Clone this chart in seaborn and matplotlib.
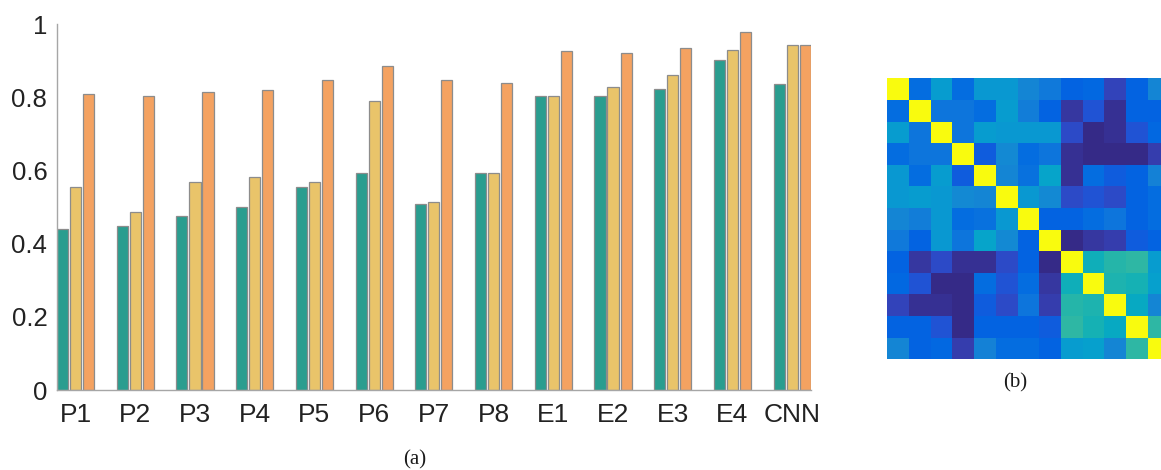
import numpy as np
import pandas as pd
import matplotlib
matplotlib.use("Agg")
import matplotlib.pyplot as plt
from matplotlib.colors import ListedColormap
import seaborn as sns

# ---- bar chart data -------------------------------------------------------
categories = ["P1", "P2", "P3", "P4", "P5", "P6", "P7", "P8",
              "E1", "E2", "E3", "E4", "CNN"]
series_names = ["s1", "s2", "s3"]
s1_values = [0.440, 0.447, 0.475, 0.500, 0.554, 0.594, 0.509, 0.594,
             0.802, 0.802, 0.823, 0.902, 0.835]
s2_values = [0.554, 0.487, 0.568, 0.582, 0.568, 0.790, 0.514, 0.594,
             0.802, 0.829, 0.862, 0.930, 0.943]
s3_values = [0.810, 0.802, 0.813, 0.821, 0.848, 0.885, 0.846, 0.840,
             0.925, 0.922, 0.935, 0.977, 0.944]
y_ticks = [0, 0.2, 0.4, 0.6, 0.8, 1]
y_tick_labels = ["0", "0.2", "0.4", "0.6", "0.8", "1"]
bar_colors = ["#2a9d8f", "#e9c46a", "#f4a261"]

# ---- similarity matrix (13 x 13, symmetric) -------------------------------
sim_matrix = [
    [1.00, 0.16, 0.34, 0.16, 0.32, 0.32, 0.26, 0.21, 0.13, 0.15, 0.07, 0.14, 0.26],
    [0.16, 1.00, 0.19, 0.19, 0.16, 0.34, 0.22, 0.14, 0.04, 0.10, 0.03, 0.13, 0.14],
    [0.34, 0.19, 1.00, 0.19, 0.33, 0.32, 0.32, 0.32, 0.08, 0.01, 0.03, 0.10, 0.15],
    [0.16, 0.19, 0.19, 1.00, 0.12, 0.27, 0.16, 0.20, 0.02, 0.01, 0.01, 0.01, 0.05],
    [0.32, 0.16, 0.33, 0.12, 1.00, 0.25, 0.18, 0.36, 0.02, 0.16, 0.12, 0.14, 0.24],
    [0.32, 0.34, 0.32, 0.27, 0.25, 1.00, 0.32, 0.27, 0.08, 0.10, 0.08, 0.14, 0.16],
    [0.26, 0.22, 0.32, 0.16, 0.18, 0.32, 1.00, 0.13, 0.13, 0.16, 0.19, 0.14, 0.16],
    [0.21, 0.14, 0.32, 0.20, 0.36, 0.27, 0.13, 1.00, 0.00, 0.04, 0.06, 0.11, 0.14],
    [0.13, 0.04, 0.08, 0.02, 0.02, 0.08, 0.13, 0.00, 1.00, 0.43, 0.47, 0.49, 0.34],
    [0.15, 0.10, 0.01, 0.01, 0.16, 0.10, 0.16, 0.04, 0.43, 1.00, 0.46, 0.44, 0.35],
    [0.07, 0.03, 0.03, 0.01, 0.12, 0.08, 0.19, 0.06, 0.47, 0.46, 1.00, 0.40, 0.26],
    [0.14, 0.13, 0.10, 0.01, 0.14, 0.14, 0.14, 0.11, 0.49, 0.44, 0.40, 1.00, 0.49],
    [0.26, 0.14, 0.15, 0.05, 0.24, 0.16, 0.16, 0.14, 0.34, 0.35, 0.26, 0.49, 1.00],
]

# parula-style colormap
_parula_rgb = [
    [0.2081, 0.1663, 0.5292], [0.2116, 0.1898, 0.5777], [0.2123, 0.2138, 0.6270],
    [0.2081, 0.2386, 0.6771], [0.1959, 0.2645, 0.7279], [0.1707, 0.2919, 0.7792],
    [0.1253, 0.3242, 0.8303], [0.0591, 0.3598, 0.8683], [0.0117, 0.3875, 0.8820],
    [0.0060, 0.4086, 0.8828], [0.0165, 0.4266, 0.8786], [0.0329, 0.4430, 0.8720],
    [0.0498, 0.4586, 0.8641], [0.0629, 0.4737, 0.8554], [0.0723, 0.4887, 0.8467],
    [0.0779, 0.5040, 0.8384], [0.0793, 0.5200, 0.8312], [0.0749, 0.5375, 0.8263],
    [0.0641, 0.5570, 0.8240], [0.0488, 0.5772, 0.8228], [0.0343, 0.5966, 0.8199],
    [0.0265, 0.6137, 0.8135], [0.0239, 0.6287, 0.8038], [0.0231, 0.6418, 0.7913],
    [0.0228, 0.6535, 0.7768], [0.0267, 0.6642, 0.7607], [0.0384, 0.6743, 0.7436],
    [0.0590, 0.6838, 0.7254], [0.0843, 0.6928, 0.7062], [0.1133, 0.7015, 0.6859],
    [0.1453, 0.7098, 0.6646], [0.1801, 0.7177, 0.6424], [0.2178, 0.7250, 0.6193],
    [0.2586, 0.7317, 0.5954], [0.3022, 0.7376, 0.5712], [0.3482, 0.7424, 0.5473],
    [0.3953, 0.7459, 0.5244], [0.4420, 0.7481, 0.5033], [0.4871, 0.7491, 0.4840],
    [0.5300, 0.7491, 0.4661], [0.5709, 0.7485, 0.4494], [0.6099, 0.7473, 0.4337],
    [0.6473, 0.7456, 0.4188], [0.6834, 0.7435, 0.4044], [0.7184, 0.7411, 0.3905],
    [0.7525, 0.7384, 0.3768], [0.7858, 0.7356, 0.3633], [0.8185, 0.7327, 0.3498],
    [0.8507, 0.7299, 0.3360], [0.8824, 0.7274, 0.3217], [0.9139, 0.7258, 0.3063],
    [0.9450, 0.7261, 0.2886], [0.9739, 0.7314, 0.2666], [0.9938, 0.7455, 0.2403],
    [0.9990, 0.7653, 0.2164], [0.9955, 0.7861, 0.1967], [0.9880, 0.8066, 0.1794],
    [0.9789, 0.8271, 0.1633], [0.9697, 0.8481, 0.1475], [0.9626, 0.8705, 0.1309],
    [0.9589, 0.8949, 0.1132], [0.9598, 0.9218, 0.0948], [0.9661, 0.9514, 0.0755],
    [0.9763, 0.9831, 0.0538],
]
parula = ListedColormap(_parula_rgb, name="parula")

# ---- figure ----------------------------------------------------------------
sns.set_theme(style="white")
plt.rcParams["font.family"] = ["Liberation Sans", "DejaVu Sans"]

fig = plt.figure(figsize=(11.61, 4.70), dpi=100)

# grouped bar chart
ax = fig.add_axes([0.0491, 0.1702, 0.6492, 0.7787])
df = pd.DataFrame({
    "model": np.repeat(categories, 3),
    "variant": series_names * len(categories),
    "score": np.ravel(np.column_stack([s1_values, s2_values, s3_values])),
})
sns.barplot(data=df, x="model", y="score", hue="variant", order=categories,
            hue_order=series_names, palette=bar_colors, saturation=1,
            width=0.655, gap=0.15, edgecolor="#8c8c8c", linewidth=0.9,
            legend=False, ax=ax)
ax.set_xlim(-0.31, 12.31)
ax.set_ylim(0, 1)
ax.set_yticks(y_ticks)
ax.set_yticklabels(y_tick_labels)
ax.set_xlabel("")
ax.set_ylabel("")
for side in ["top", "right"]:
    ax.spines[side].set_visible(False)
for side in ["left", "bottom"]:
    ax.spines[side].set_color("#a6a6a6")
    ax.spines[side].set_linewidth(1.0)
ax.tick_params(axis="y", length=0, pad=7, labelsize=18.5, labelcolor="#222222")
ax.tick_params(axis="x", length=0, pad=9, labelsize=19, labelcolor="#222222")
ax.set_facecolor("white")

# similarity heatmap
hax = fig.add_axes([0.7643, 0.2355, 0.2429, 0.5979])
sns.heatmap(np.array(sim_matrix), cmap=parula, vmin=0, vmax=1, cbar=False,
            square=False, xticklabels=False, yticklabels=False, ax=hax)

# panel captions
fig.text(0.3575, 0.021, "(a)", ha="center", va="center",
         family="Liberation Serif", fontsize=15, color="#1a1a1a")
fig.text(0.8743, 0.185, "(b)", ha="center", va="center",
         family="Liberation Serif", fontsize=15, color="#1a1a1a")

fig.savefig("out.png", dpi=100, facecolor="white")
